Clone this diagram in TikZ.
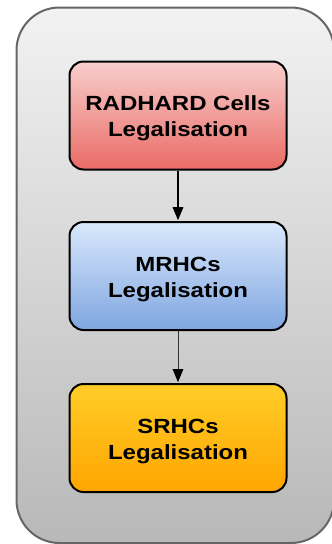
\documentclass[tikz,border=0pt]{standalone}
\usepackage{fontspec}
\setmainfont[FakeStretch=1.17]{Liberation Sans}
\usetikzlibrary{arrows.meta}
\definecolor{frametop}{HTML}{F2F2F2}
\definecolor{framebot}{HTML}{B8B8B8}
\definecolor{framedraw}{HTML}{666666}
\definecolor{redtop}{HTML}{F8CECC}
\definecolor{redbot}{HTML}{EA6B66}
\definecolor{bluetop}{HTML}{DAE8FC}
\definecolor{bluebot}{HTML}{7EA6E0}
\definecolor{orangetop}{HTML}{FFCD28}
\definecolor{orangebot}{HTML}{FFA500}
\definecolor{arrowgray}{HTML}{333333}
\tikzset{
  container/.style={draw=framedraw, line width=2pt, rounded corners=43pt,
    top color=frametop, bottom color=framebot,
    minimum width=317.5pt, minimum height=535.5pt, inner sep=0pt},
  stagebox/.style={draw=black, line width=2pt, rounded corners=14pt,
    minimum width=217pt, minimum height=108pt, inner sep=0pt,
    align=center, text height=47pt,
    font=\fontsize{20.5}{26}\selectfont\bfseries},
  flow/.style={line width=1.6pt, shorten >=0.8pt,
    -{Triangle[length=13pt,width=10.5pt]}},
  flowthin/.style={draw=arrowgray, line width=1pt, shorten >=0.8pt,
    -{Triangle[length=13pt,width=10.5pt,color=black,fill=black]}}
}
\begin{document}
\begin{tikzpicture}[x=1pt,y=-1pt]
  \useasboundingbox (0,0) rectangle (332,544);
  % enclosing panel
  \node[container] (frame) at (175.25,275.25) {};
  % legalisation stages
  \node[stagebox, top color=redtop, bottom color=redbot] (rad) at (178,115.5)
    {RADHARD Cells\\Legalisation};
  \node[stagebox, top color=bluetop, bottom color=bluebot] (mrh) at (178,276)
    {MRHCs\\Legalisation};
  \node[stagebox, top color=orangetop, bottom color=orangebot] (srh) at (178,438)
    {SRHCs\\Legalisation};
  % flow between stages
  \draw[flow] (rad) -- (mrh);
  \draw[flowthin] (mrh) -- (srh);
\end{tikzpicture}
\end{document}
